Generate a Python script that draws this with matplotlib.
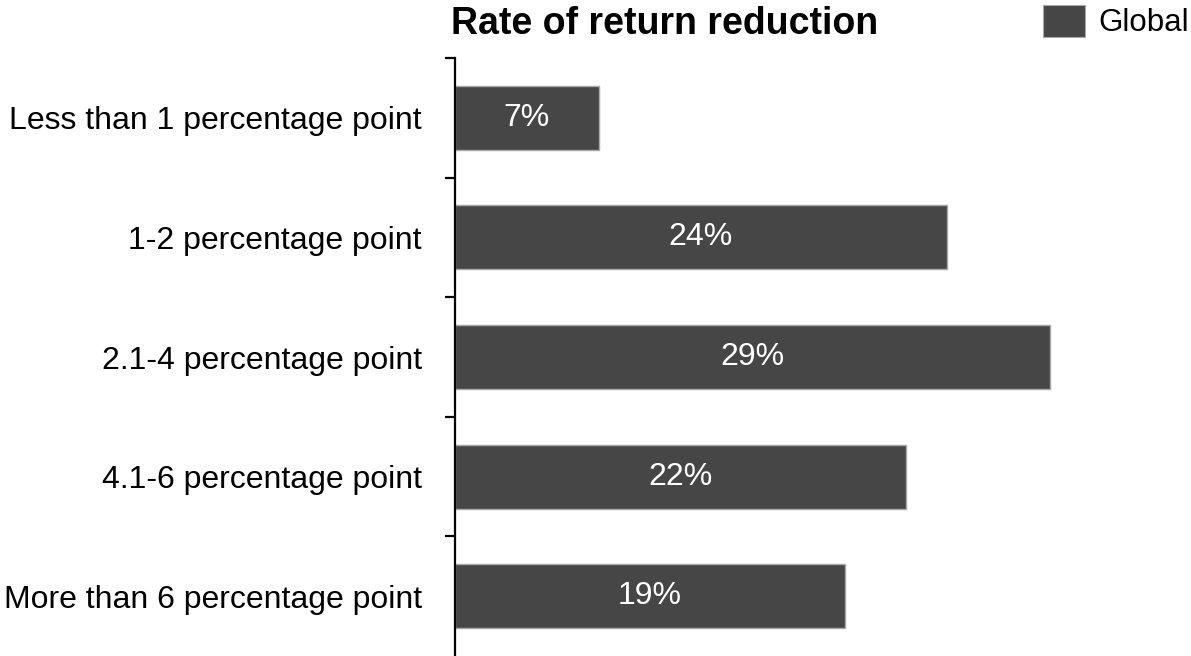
import matplotlib
matplotlib.use("Agg")
import matplotlib.pyplot as plt
import numpy as np

plt.rcParams['font.family'] = ['Liberation Sans', 'DejaVu Sans']

categories = ["Less than 1 percentage point", "1-2 percentage point",
              "2.1-4 percentage point", "4.1-6 percentage point",
              "More than 6 percentage point"]
values = [7, 24, 29, 22, 19]
series_name = "Global"
title = "Rate of return reduction"

W, H = 1191, 656
fig = plt.figure(figsize=(W/100, H/100), dpi=100)
ax_left, ax_top, ax_bottom = 455, 58, 656
xmax = 30
px_per = 20.5
ax = fig.add_axes([ax_left/W, (H-ax_bottom)/H, xmax*px_per/W, (ax_bottom-ax_top)/H])

y = np.arange(len(categories))
bars = ax.barh(y, values, height=0.535, color='#464646', edgecolor='#a8a8a8', linewidth=1.0)
for b, v in zip(bars, values):
    ax.text(v/2, b.get_y()+b.get_height()/2, f"{v}%", ha='center', va='center',
            color='white', fontsize=23)

ax.set_ylim(len(categories)-0.5, -0.5)
ax.set_xlim(0, xmax)
ax.set_yticks(y)
ax.set_yticklabels(categories, fontsize=23)
ax.set_yticks(np.arange(-0.5, len(categories)-1), minor=True)
ax.tick_params(axis='y', which='major', length=0, pad=24)
ax.tick_params(axis='y', which='minor', length=7.2, width=1.6, color='black', direction='out')
ax.set_xticks([])
for s in ['top', 'right', 'bottom']:
    ax.spines[s].set_visible(False)
ax.spines['left'].set_linewidth(1.6)
ax.spines['left'].set_color('black')
ax.patch.set_alpha(0)

fig.text(665/W, 1-24/H, title, ha='center', va='center', fontsize=27, fontweight='bold')

fig.patches.append(matplotlib.patches.Rectangle((1043/W, 1-37/H), 42/W, 32/H,
                   transform=fig.transFigure, facecolor='#464646', edgecolor='#a8a8a8', linewidth=0.8))
fig.text(1098/W, 1-23/H, series_name, ha='left', va='center', fontsize=22.5)

fig.savefig("out.png", dpi=100)
